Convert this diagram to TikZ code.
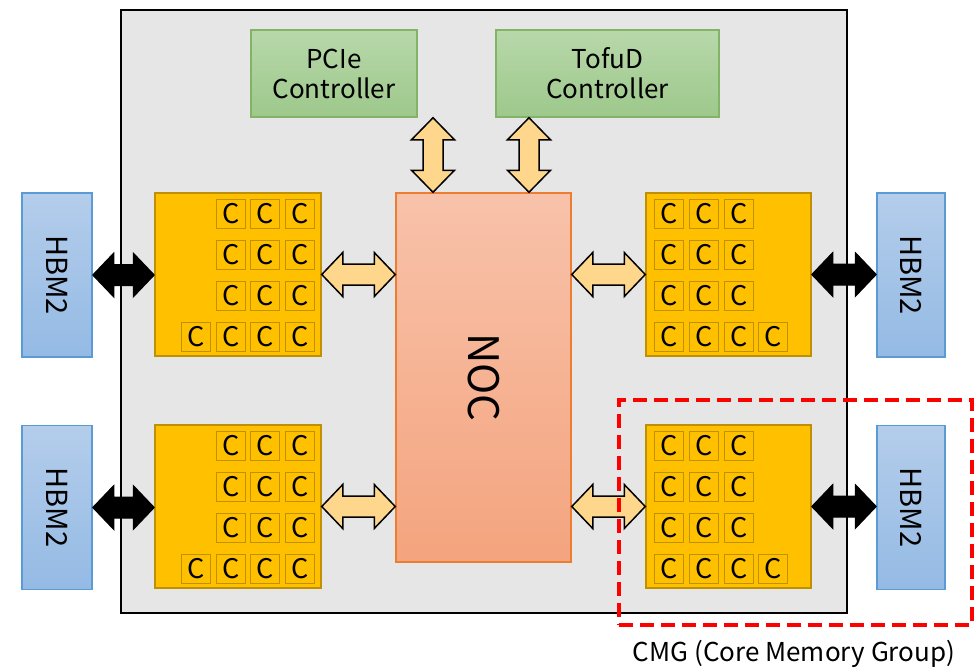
\documentclass[tikz,border=0pt]{standalone}
\usepackage{fontspec}
\setmainfont{Noto Sans CJK JP}
\usetikzlibrary{calc}
\definecolor{chipgray}{RGB}{230,230,230}
\definecolor{gtop}{RGB}{184,216,170}
\definecolor{gbot}{RGB}{157,200,139}
\definecolor{gline}{RGB}{130,179,102}
\definecolor{cmgfill}{RGB}{255,192,0}
\definecolor{cmgline}{RGB}{191,144,0}
\definecolor{ntop}{RGB}{248,194,170}
\definecolor{nbot}{RGB}{244,164,126}
\definecolor{nline}{RGB}{237,125,49}
\definecolor{htop}{RGB}{180,205,235}
\definecolor{hbot}{RGB}{148,186,228}
\definecolor{hline}{RGB}{91,155,213}
\definecolor{arrfill}{RGB}{255,215,140}
\newcommand{\harr}[3]{%
  \draw[#1] let \p1=(#2), \p2=(#3) in
  (\x1,\y1) -- (\x1+21pt,\y1+22pt) -- (\x1+21pt,\y1+10.5pt) -- (\x2-21pt,\y1+10.5pt)
  -- (\x2-21pt,\y1+22pt) -- (\x2,\y1) -- (\x2-21pt,\y1-22pt) -- (\x2-21pt,\y1-10.5pt)
  -- (\x1+21pt,\y1-10.5pt) -- (\x1+21pt,\y1-22pt) -- cycle;}
\newcommand{\varr}[3]{%
  \draw[#1] let \p1=(#2), \p2=(#3) in
  (\x1,\y1) -- (\x1+21.5pt,\y1-22pt) -- (\x1+10pt,\y1-22pt) -- (\x1+10pt,\y2+22pt)
  -- (\x1+21.5pt,\y2+22pt) -- (\x1,\y2) -- (\x1-21.5pt,\y2+22pt) -- (\x1-10pt,\y2+22pt)
  -- (\x1-10pt,\y1-22pt) -- (\x1-21.5pt,\y1-22pt) -- cycle;}
\begin{document}
\begin{tikzpicture}[x=1pt,y=-1pt,
  chipbox/.style={draw=black,line width=2pt,fill=chipgray,minimum width=726pt,minimum height=603pt},
  ctrlbox/.style={draw=gline,line width=1.5pt,top color=gtop,bottom color=gbot,minimum height=87pt,
     align=center,font=\fontsize{26}{30}\selectfont},
  cmgbox/.style={draw=cmgline,line width=1.5pt,fill=cmgfill,minimum width=166pt,minimum height=163pt},
  corebox/.style={draw=cmgline,line width=1.5pt,fill=cmgfill,minimum width=29pt,minimum height=29pt,
     inner sep=0pt,font=\fontsize{27}{27}\selectfont},
  nocbox/.style={draw=nline,line width=1.5pt,top color=ntop,bottom color=nbot,minimum width=175pt,minimum height=369pt},
  hbmbox/.style={draw=hline,line width=1.5pt,top color=htop,bottom color=hbot,minimum height=164pt},
  hbmtext/.style={rotate=-90,font=\fontsize{29}{29}\selectfont},
  blkarrow/.style={fill=black,draw=black,line width=1pt,line join=miter},
  orgarrow/.style={fill=arrfill,draw=black,line width=1.5pt,line join=miter},
]
\useasboundingbox (0,0) rectangle (977,667);
\node[chipbox] (chip) at (484,311.5) {};
\node[ctrlbox,minimum width=166pt] (pcie) at (334,73.5) {PCIe\\Controller};
\node[ctrlbox,minimum width=223pt] (tofud) at (607.5,73.5) {TofuD\\Controller};
\node[nocbox] (noc) at (483.5,377.5) {};
\node[rotate=-90,font=\fontsize{42}{42}\selectfont] (noct) at (noc.center) {NOC};
\node[cmgbox] (cmgTL) at (238,274.5) {};
\node[cmgbox] (cmgBL) at (238,506.5) {};
\node[cmgbox,minimum width=165pt] (cmgTR) at (728.5,274.5) {};
\node[cmgbox,minimum width=165pt] (cmgBR) at (728.5,506.5) {};
% cores
\foreach \b/\dy in {L1/0,L2/232}{
  \foreach \r/\yy in {1/214,2/255,3/296,4/337}{
    \foreach \c/\xx in {2/231,3/265,4/300}{
      \node[corebox] (core\b-\r-\c) at (\xx,\yy+\dy) {C};
    }
  }
  \node[corebox] (core\b-4-1) at (196,337+\dy) {C};
}
\foreach \b/\dy in {R1/0,R2/232}{
  \foreach \r/\yy in {1/214,2/255,3/296,4/337}{
    \foreach \c/\xx in {1/669,2/704,3/739}{
      \node[corebox] (core\b-\r-\c) at (\xx,\yy+\dy) {C};
    }
  }
  \node[corebox] (core\b-4-4) at (773,337+\dy) {C};
}
% HBM2
\node[hbmbox,minimum width=70pt] (hbmL1) at (57,275) {};
\node[hbmbox,minimum width=70pt] (hbmL2) at (57,507.5) {};
\node[hbmbox,minimum width=68pt] (hbmR1) at (911,275) {};
\node[hbmbox,minimum width=68pt] (hbmR2) at (911,507.5) {};
\foreach \h in {hbmL1,hbmL2,hbmR1,hbmR2}{\node[hbmtext] (\h t) at (\h.center) {HBM2};}
% arrows
\harr{blkarrow}{hbmL1.east}{cmgTL.west}
\harr{blkarrow}{hbmL2.east}{cmgBL.west}
\harr{blkarrow}{cmgTR.east}{hbmR1.west}
\harr{blkarrow}{cmgBR.east}{hbmR2.west}
\harr{orgarrow}{cmgTL.east}{noc.west}
\harr{orgarrow}{cmgBL.east}{noc.west}
\harr{orgarrow}{noc.east |- cmgTR.west}{cmgTR.west}
\harr{orgarrow}{noc.east |- cmgBR.west}{cmgBR.west}
\coordinate (ax1) at (433,0);
\coordinate (ax2) at (529,0);
\varr{orgarrow}{pcie.south -| ax1}{noc.north}
\varr{orgarrow}{tofud.south -| ax2}{noc.north}
% CMG outline
\node[draw=red,line width=3.5pt,dash pattern=on 14pt off 7pt,minimum width=353pt,minimum height=225pt,inner sep=0pt] (cmgarea) at (795.5,512.5) {};
\node[font=\fontsize{26}{26}\selectfont] (cmglabel) at (794,654) {CMG (Core Memory Group)};
\end{tikzpicture}
\end{document}
